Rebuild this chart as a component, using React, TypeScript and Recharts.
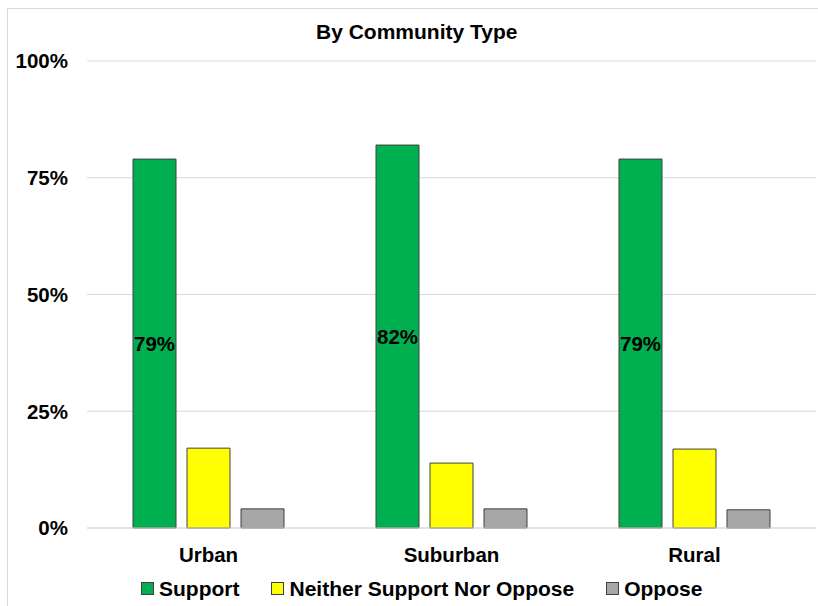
import React from "react";
import { BarChart, Bar, XAxis, YAxis, CartesianGrid, LabelList } from "recharts";

// Community types along the x axis
const communities = ["Urban", "Suburban", "Rural"];
// Share of respondents (%) per response
const supportValues = [79, 82, 79];
const neitherValues = [17.1, 13.9, 16.9];
const opposeValues = [4.1, 4.1, 3.9];
const yTicks = [0, 25, 50, 75, 100];

const seriesInfo = [
  { key: "support", name: "Support", color: "#00B050" },
  { key: "neither", name: "Neither Support Nor Oppose", color: "#FFFF00" },
  { key: "oppose", name: "Oppose", color: "#A6A6A6" },
];

const data = communities.map((c, i) => ({
  community: c,
  support: supportValues[i],
  neither: neitherValues[i],
  oppose: opposeValues[i],
}));

const FONT = "'Liberation Sans', Arial, Helvetica, sans-serif";
const FS = 21;
const EDGE = "#404040";

export default function App() {
  return (
    <div
      style={{
        position: "absolute",
        left: 0,
        top: 0,
        width: 818,
        height: 606,
        overflow: "hidden",
        background: "#fff",
        fontFamily: FONT,
      }}
    >
      {/* chart area frame */}
      <div
        style={{
          position: "absolute",
          left: 7,
          top: 8,
          width: 830,
          height: 600,
          border: "1px solid #D9D9D9",
          boxSizing: "border-box",
        }}
      />
      <div
        style={{
          position: "absolute",
          left: 316,
          top: 20.5,
          fontSize: FS,
          fontWeight: 700,
          lineHeight: 1,
          whiteSpace: "nowrap",
          color: "#000",
        }}
      >
        By Community Type
      </div>
      <div style={{ position: "absolute", left: 0, top: 0 }}>
        <BarChart
          width={818}
          height={606}
          data={data}
          margin={{ top: 61, right: 2, bottom: 48, left: 7 }}
          barSize={43}
          barGap={11}
        >
          <CartesianGrid vertical={false} stroke="#D9D9D9" strokeWidth={1.2} />
          <XAxis
            dataKey="community"
            height={30}
            axisLine={{ stroke: "#D9D9D9", strokeWidth: 1.2 }}
            tickLine={false}
            tickSize={0}
            tickMargin={19}
            tick={{ fill: "#000", fontSize: 20.5, fontWeight: 700, fontFamily: FONT }}
          />
          <YAxis
            domain={[0, 100]}
            ticks={yTicks}
            width={80}
            axisLine={false}
            tickLine={false}
            tickSize={0}
            tickMargin={19}
            tickFormatter={(v: number) => `${v}%`}
            tick={{ fill: "#000", fontSize: 20.5, fontWeight: 700, fontFamily: FONT }}
          />
          {seriesInfo.map((s) => (
            <Bar
              key={s.key}
              dataKey={s.key}
              name={s.name}
              fill={s.color}
              stroke={EDGE}
              strokeWidth={1}
              isAnimationActive={false}
            >
              {s.key === "support" && (
                <LabelList
                  dataKey="support"
                  position="center"
                  formatter={(v: number) => `${v}%`}
                  fill="#000"
                  style={{ fontSize: 20.5, fontWeight: 700, fontFamily: FONT }}
                />
              )}
            </Bar>
          ))}
        </BarChart>
      </div>
      <div
        style={{
          position: "absolute",
          left: 141,
          top: 578,
          display: "flex",
          alignItems: "center",
          fontSize: FS,
          fontWeight: 700,
          lineHeight: 1,
          whiteSpace: "nowrap",
          color: "#000",
        }}
      >
        {seriesInfo.map((s, i) => (
          <div
            key={s.key}
            style={{ display: "flex", alignItems: "center", marginLeft: i === 0 ? 0 : 32 }}
          >
            <span
              style={{
                display: "inline-block",
                width: 11,
                height: 11,
                background: s.color,
                border: `1px solid ${EDGE}`,
                marginRight: 5,
              }}
            />
            <span>{s.name}</span>
          </div>
        ))}
      </div>
    </div>
  );
}
